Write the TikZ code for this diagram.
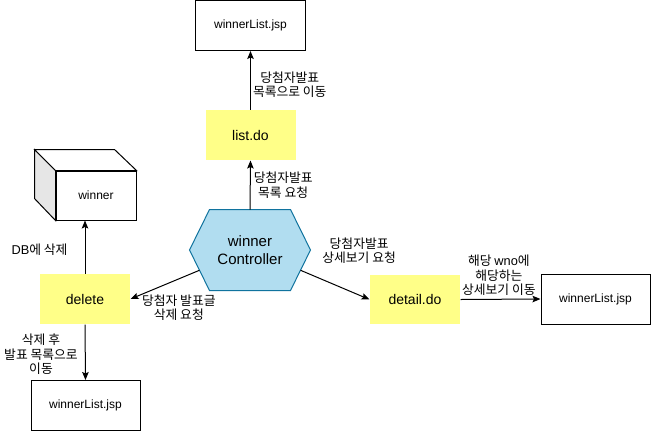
\documentclass[tikz,border=0pt]{standalone}
\usepackage{fontspec}
\setmainfont{Liberation Sans}
\newfontfamily\kr{Noto Sans CJK KR}
\usetikzlibrary{shapes,arrows,arrows.meta,calc}
\definecolor{memo}{HTML}{FFFF88}
\definecolor{ctrlfill}{HTML}{B1DDF0}
\definecolor{ctrlline}{HTML}{10739E}
\definecolor{side}{HTML}{E6E6E6}
\tikzset{
	page/.style     = {draw, rectangle, minimum width = 110pt,
		minimum height = 50pt, font = \fontsize{12}{14}\selectfont},
	action/.style   = {rectangle, fill = memo, minimum width = 90pt,
		minimum height = 50pt, font = \fontsize{14}{16}\selectfont},
	hub/.style      = {rectangle, minimum width = 120pt, minimum height = 80pt,
		align = center, font = \fontsize{15}{18}\selectfont}, % controller
	note/.style     = {align = center, inner sep = 0pt,
		font = \kr\fontsize{12.8}{14.4}\selectfont} % edge label
}

\begin{document}
\begin{tikzpicture}[x=1pt, y=-1pt, line width=1pt, >={Stealth[length=8pt, width=6.5pt, inset=1.5pt]}]
	\useasboundingbox (0,0) rectangle (651,432);
	\draw
	% pages and actions
	node at (250.5,25.5) [page] (jsptop) {winnerList.jsp}
	node at (250.5,135) [action] (listdo) {list.do}
	node at (85,299) [action] (delete) {delete}
	node at (85.5,405.5) [page, minimum width = 109pt] (jspbot) {winnerList.jsp}
	node at (415,299.5) [action, minimum height = 49pt] (detail) {detail.do}
	node at (595.5,299) [page, minimum width = 109pt] (jspright) {winnerList.jsp};

	% controller hexagon
	\node at (250,250) [hub] (ctrl) {winner\\Controller};
	\draw[fill = ctrlfill, draw = ctrlline] (ctrl.west) -- ([xshift=20pt]ctrl.north west)
		-- ([xshift=-20pt]ctrl.north east) -- (ctrl.east)
		-- ([xshift=-20pt]ctrl.south east) -- ([xshift=20pt]ctrl.south west) -- cycle;
	\node at (ctrl) [hub] {winner\\Controller};

	% database cube
	\node at (96,195.5) [draw, rectangle, minimum width = 80pt, minimum height = 49pt,
		font = \fontsize{12}{14}\selectfont] (db) {winner};
	\draw[fill = side] (db.north west) -- ++(-21,-21) -- ++(0,49) -- (db.south west) -- cycle;
	\draw[fill = white] (db.north west) -- ++(-21,-21) -- ++(80,0) -- (db.north east) -- cycle;

	% connectors
	\draw[->](listdo.north) -- node[note, pos = 0.42, right = 2pt]
		{당첨자발표\\목록으로 이동} (jsptop.south);
	\draw[->](ctrl.north) -- node[note, pos = 0.5, right = 3pt]
		{당첨자발표\\목록 요청} (listdo.south);
	\draw[->](delete.north) -- node[note, pos = 0.45, left = 17pt]
		{{\rmfamily DB}에 삭제} (delete.north |- db.south);
	\draw[->](delete.south) -- node[note, pos = 0.54, left = 7pt]
		{삭제 후\\발표 목록으로\\이동} (jspbot.north);
	\draw[->]($(ctrl.west)!0.5!(ctrl.south west)+(10,0)$) -- node[note, pos = 0.3, below = 15pt]
		{당첨자 발표글\\삭제 요청} (delete.east);
	\draw[->]($(ctrl.east)!0.5!(ctrl.south east)+(-10,0)$) -- node[note, pos = 0.85, above = 31pt]
		{당첨자발표\\상세보기 요청} (detail.west);
	\draw[->](detail.east) -- node[note, pos = 0.48, above = 3pt]
		{해당 {\rmfamily wno}에\\해당하는\\상세보기 이동} (jspright.west);
\end{tikzpicture}
\end{document}
